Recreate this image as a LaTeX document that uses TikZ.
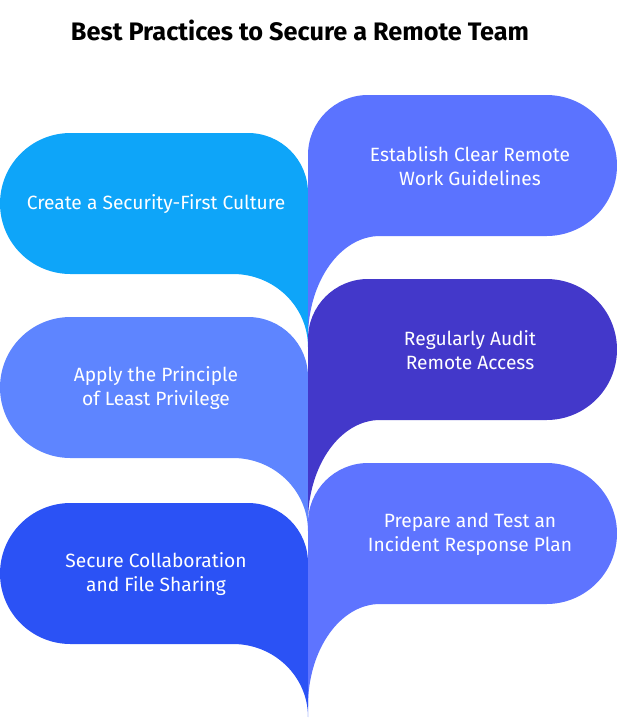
\documentclass[tikz,border=0pt]{standalone}
\usepackage{fontspec}
\setmainfont{Fira Sans}
\usetikzlibrary{calc}
\definecolor{leafcyan}{HTML}{0EA5F9}
\definecolor{leafsky}{HTML}{5E85FF}
\definecolor{leafblue}{HTML}{2B52F5}
\definecolor{leafviolet}{HTML}{5B73FF}
\definecolor{leafindigo}{HTML}{4338CA}
\definecolor{leafperiwinkle}{HTML}{5E74FF}
\tikzset{
	leaftext/.style={text=white, align=center, font=\fontsize{19.2}{24}\selectfont},
	titletext/.style={font=\fontsize{25.3}{30}\selectfont\bfseries}
}

\begin{document}
\begin{tikzpicture}[x=1pt,y=1pt]
	\useasboundingbox (0,0) rectangle (617,-724);
	%Title
	\node[titletext] (title) at (300,-30) {Best Practices to Secure a Remote Team};
	%Left leaves, tail on the right side pointing down
	\foreach \i/\t/\col/\txt in {1/133/leafcyan/{Create a Security-First Culture},
		2/317/leafsky/{Apply the Principle\\of Least Privilege},
		3/503/leafblue/{Secure Collaboration\\and File Sharing}} {
		\fill[\col] (70.5,-\t) -- (248,-\t) arc[start angle=90, end angle=0, radius=60]
			-- (308,-\t-214) arc[start angle=0, end angle=90, x radius=75, y radius=73]
			-- (70.5,-\t-141) arc[start angle=270, end angle=90, radius=70.5] -- cycle;
		\node[leaftext] (left\i) at (156,-\t-71.5) {\txt};
	}
	%Right leaves, tail on the left side pointing down
	\foreach \i/\t/\col/\txt in {1/95/leafviolet/{Establish Clear Remote\\Work Guidelines},
		2/279/leafindigo/{Regularly Audit\\Remote Access},
		3/463/leafperiwinkle/{Prepare and Test an\\Incident Response Plan}} {
		\fill[\col] (546.5,-\t) arc[start angle=90, end angle=-90, radius=70.5]
			-- (380,-\t-141) arc[start angle=90, end angle=180, x radius=72, y radius=102]
			-- (308,-\t-60) arc[start angle=180, end angle=90, radius=60] -- cycle;
		\node[leaftext] (right\i) at (470,-\t-71.5) {\txt};
	}
\end{tikzpicture}
\end{document}
